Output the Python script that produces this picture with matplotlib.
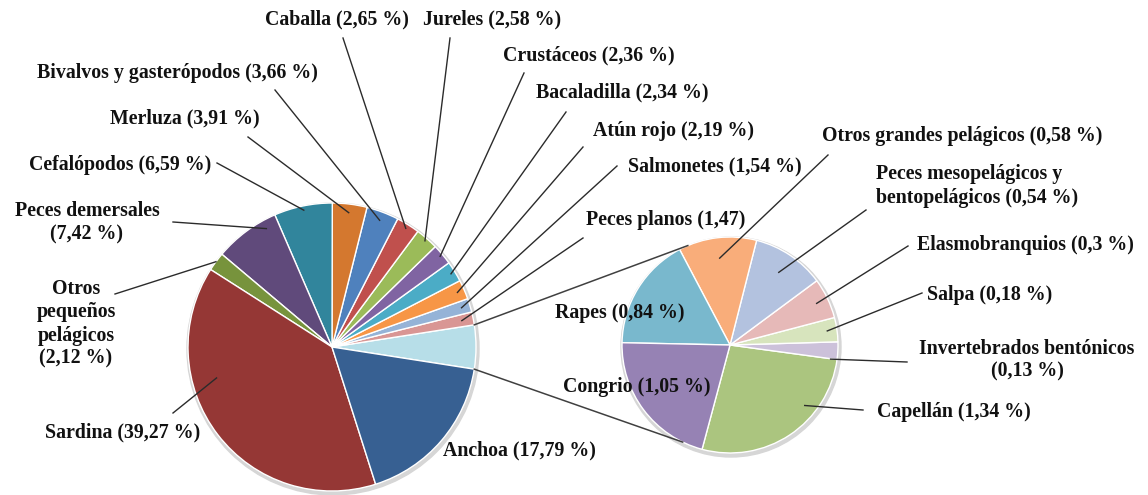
import numpy as np
import matplotlib
matplotlib.use("Agg")
import matplotlib.pyplot as plt
from matplotlib.patches import Circle

W, H = 1148, 495

# main pie, counter-clockwise starting from the grouped "other" slice
main_names = [
    "Otros", "Peces planos", "Salmonetes", "Atún rojo", "Bacaladilla",
    "Crustáceos", "Jureles", "Caballa", "Bivalvos y gasterópodos", "Merluza",
    "Cefalópodos", "Peces demersales", "Otros pequeños pelágicos", "Sardina",
    "Anchoa",
]
main_pct = [None, 1.47, 1.54, 2.19, 2.34, 2.36, 2.58, 2.65, 3.66, 3.91,
            6.59, 7.42, 2.12, 39.27, 17.79]
main_colors = [
    "#B7DEE8", "#D99694", "#95B3D7", "#F79646", "#4BACC6", "#8064A2",
    "#9BBB59", "#C0504D", "#4F81BD", "#D4782F", "#31859C", "#604A7B",
    "#77933C", "#953735", "#376092",
]

# second pie (breakdown of "Otros"), counter-clockwise
sub_names = [
    "Capellán", "Invertebrados bentónicos", "Salpa", "Elasmobranquios",
    "Peces mesopelágicos y bentopelágicos", "Otros grandes pelágicos",
    "Rapes", "Congrio",
]
sub_pct = [1.34, 0.13, 0.18, 0.3, 0.54, 0.58, 0.84, 1.05]
sub_colors = [
    "#ABC57F", "#CCC1DA", "#D7E4BD", "#E6B9B8", "#B3C2DF", "#F9AD7A",
    "#79B8CD", "#9682B4",
]

main_pct[0] = sum(sub_pct)

# label text, text pos (image px), ha, leader start (image px), anchor (theta override, r frac)
main_labels = {
    "Caballa": ("Caballa (2,65 %)", (265, 19), "left", (343, 38), (None, 0.97)),
    "Jureles": ("Jureles (2,58 %)", (423, 19), "left", (450, 38), (None, 0.98)),
    "Crustáceos": ("Crustáceos (2,36 %)", (503, 55), "left", (524, 73), (None, 0.98)),
    "Bacaladilla": ("Bacaladilla (2,34 %)", (536, 92), "left", (566, 112), (None, 0.97)),
    "Atún rojo": ("Atún rojo (2,19 %)", (593, 131), "left", (583, 147), (None, 0.95)),
    "Salmonetes": ("Salmonetes (1,54 %)", (628, 166), "left", (617, 166), (None, 0.94)),
    "Peces planos": ("Peces planos (1,47)", (586, 220), "left", (583, 238), (None, 0.92)),
    "Bivalvos y gasterópodos": ("Bivalvos y gasterópodos (3,66 %)", (37, 73), "left", (275, 90), (None, 0.94)),
    "Merluza": ("Merluza (3,91 %)", (110, 118), "left", (248, 137), (None, 0.94)),
    "Cefalópodos": ("Cefalópodos (6,59 %)", (29, 165), "left", (217, 163), (None, 0.97)),
    "Peces demersales": ("Peces demersales\n(7,42 %)", (87, 223), "center", (173, 222), (119, 0.94)),
    "Otros pequeños pelágicos": ("Otros\npequeños\npelágicos\n(2,12 %)", (76, 324), "center", (115, 294), (None, 1.0)),
    "Sardina": ("Sardina (39,27 %)", (45, 432), "left", (173, 413), (195, 0.83)),
    "Anchoa": ("Anchoa (17,79 %)", (443, 450), "left", None, None),
}
sub_labels = {
    "Otros grandes pelágicos": ("Otros grandes pelágicos (0,58 %)", (822, 136), "left", (828, 155), (None, 0.81)),
    "Peces mesopelágicos y bentopelágicos": ("Peces mesopelágicos y\nbentopelágicos (0,54 %)", (876, 186), "left", (866, 210), (None, 0.81)),
    "Elasmobranquios": ("Elasmobranquios (0,3 %)", (917, 245), "left", (908, 246), (None, 0.89)),
    "Salpa": ("Salpa (0,18 %)", (927, 295), "left", (922, 293), (None, 0.91)),
    "Invertebrados bentónicos": ("Invertebrados bentónicos\n(0,13 %)", (1027, 360), "center", (907, 362), (-8, 0.94)),
    "Capellán": ("Capellán (1,34 %)", (877, 412), "left", (863, 410), (-39, 0.89)),
    "Rapes": ("Rapes (0,84 %)", (555, 313), "left", None, None),
    "Congrio": ("Congrio (1,05 %)", (563, 387), "left", None, None),
}

plt.rcParams["font.family"] = ["Liberation Serif", "DejaVu Serif"]
FS = 14.3
LINE = "#2b2b2b"

fig = plt.figure(figsize=(W / 100, H / 100), dpi=100)
ax = fig.add_axes([0, 0, 1, 1])


def img(p):
    return (p[0], H - p[1])


main_c, main_r = img((332, 347)), 144
sub_c, sub_r = img((730, 345)), 108

for c, r in [(main_c, main_r), (sub_c, sub_r)]:
    ax.add_patch(Circle((c[0] + 1, c[1] - 2), r + 2, color="#d6d6d6", zorder=0))

other_angle = 360 * main_pct[0] / sum(main_pct)
main_wedges, _ = ax.pie(
    main_pct, colors=main_colors, startangle=-other_angle / 2, counterclock=True,
    center=main_c, radius=main_r,
    wedgeprops=dict(edgecolor="white", linewidth=1.0),
)
sub_wedges, _ = ax.pie(
    sub_pct, colors=sub_colors, startangle=-105, counterclock=True,
    center=sub_c, radius=sub_r,
    wedgeprops=dict(edgecolor="white", linewidth=1.0),
)


def draw_labels(names, wedges, labels, center, radius):
    for name, w in zip(names, wedges):
        if name not in labels:
            continue
        text, pos, ha, start, anchor = labels[name]
        x, y = img(pos)
        ax.text(x, y, text, ha=ha, va="center", fontsize=FS, fontweight="bold",
                multialignment=ha, color="#111111", zorder=5)
        if start is None:
            continue
        th, frac = anchor
        if th is None:
            th = (w.theta1 + w.theta2) / 2
        ex = center[0] + frac * radius * np.cos(np.radians(th))
        ey = center[1] + frac * radius * np.sin(np.radians(th))
        sx, sy = img(start)
        ax.plot([sx, ex], [sy, ey], color=LINE, lw=1.0, zorder=4)


draw_labels(main_names, main_wedges, main_labels, main_c, main_r)
draw_labels(sub_names, sub_wedges, sub_labels, sub_c, sub_r)

# connector lines between the "other" slice and the second pie
ow = main_wedges[0]
for a_main, a_sub in [(ow.theta2, 113), (ow.theta1, -116)]:
    p1 = (main_c[0] + main_r * np.cos(np.radians(a_main)),
          main_c[1] + main_r * np.sin(np.radians(a_main)))
    p2 = (sub_c[0] + sub_r * np.cos(np.radians(a_sub)),
          sub_c[1] + sub_r * np.sin(np.radians(a_sub)))
    ax.plot([p1[0], p2[0]], [p1[1], p2[1]], color="#404040", lw=1.1, zorder=3)

ax.set_xlim(0, W)
ax.set_ylim(0, H)
ax.set_aspect("equal")
ax.axis("off")

fig.savefig("out.png", dpi=100)
